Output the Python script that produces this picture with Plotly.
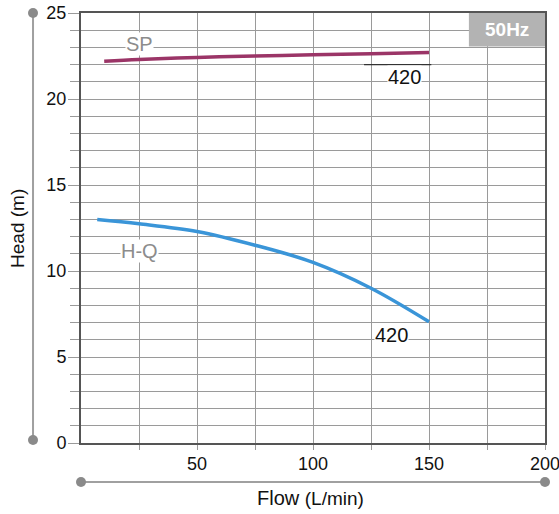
import plotly.graph_objects as go

# pump curves
sp_flow = [10, 25, 50, 75, 100, 125, 150]
sp_head = [22.2, 22.3, 22.42, 22.5, 22.57, 22.63, 22.7]
hq_flow = [7, 25, 50, 75, 100, 125, 150]
hq_head = [13.0, 12.75, 12.3, 11.5, 10.5, 9.0, 7.05]

x_tickvals = [25, 50, 75, 100, 125, 150, 175, 200]
x_ticktext = ['', '50', '', '100', '', '150', '', '200']
y_tickvals = [0, 5, 10, 15, 20, 25]

FONT = 'Liberation Sans, Arial, sans-serif'
GRID = '#9a9a9a'

fig = go.Figure()
fig.add_trace(go.Scatter(x=sp_flow, y=sp_head, mode='lines',
                         line=dict(color='#9b3567', width=3.5, shape='spline')))
fig.add_trace(go.Scatter(x=hq_flow, y=hq_head, mode='lines',
                         line=dict(color='#3a95d8', width=3.5, shape='spline')))

labels = [
    dict(x=25.4, y=23.2, text='SP', font=dict(size=20, color='#8c8c8c')),
    dict(x=25.4, y=11.15, text='H-Q', font=dict(size=20, color='#8c8c8c')),
    dict(x=139.5, y=21.3, text='420', font=dict(size=20, color='#111')),
    dict(x=134, y=6.3, text='420', font=dict(size=20, color='#111')),
]
annotations = []
for a in labels:
    annotations.append(dict(xref='x', yref='y', showarrow=False, bgcolor='white',
                            borderpad=0, **a))
annotations.append(dict(xref='x', yref='y', x=183.6, y=24.05, text='<b>50Hz</b>',
                        showarrow=False, font=dict(size=19, color='white')))
annotations.append(dict(xref='paper', yref='paper', x=-0.138, y=0.5, text='Head (m)',
                        xanchor='center', yanchor='middle',
                        textangle=-90, showarrow=False, font=dict(size=19, color='#111')))
annotations.append(dict(xref='paper', yref='paper', x=0.495, y=-0.128,
                        xanchor='center', yanchor='middle',
                        text="Flow <span style='font-size:19px'>(L/min)</span>",
                        showarrow=False, font=dict(size=20, color='#111')))

rail_y = -0.0907
rail_x = -0.1034
shapes = [
    # 50Hz badge
    dict(type='rect', xref='x', yref='y', x0=167.2, x1=200, y0=23.05, y1=25,
         fillcolor='#b3b3b3', line=dict(width=0), layer='above'),
    # darker leader under SP 420
    dict(type='line', xref='x', yref='y', x0=122, x1=151, y0=22, y1=22,
         line=dict(color='#333', width=1.2)),
    # decorative axis rails
    dict(type='line', xref='paper', yref='paper', x0=rail_x, x1=rail_x, y0=0.007, y1=1,
         line=dict(color='#a0a0a0', width=2)),
    dict(type='line', xref='paper', yref='paper', x0=0, x1=1, y0=rail_y, y1=rail_y,
         line=dict(color='#a0a0a0', width=2)),
]
for px_, py_ in [(rail_x, 1), (rail_x, 0.007), (0, rail_y), (1, rail_y)]:
    shapes.append(dict(type='circle', xref='paper', yref='paper',
                       xsizemode='pixel', ysizemode='pixel', xanchor=px_, yanchor=py_,
                       x0=-5, x1=5, y0=-5, y1=5, fillcolor='#8a8a8a',
                       line=dict(width=0)))

fig.update_layout(
    width=559, height=514,
    margin=dict(l=81, r=14, t=13, b=71, autoexpand=False),
    plot_bgcolor='white', paper_bgcolor='white',
    showlegend=False,
    font=dict(family=FONT, size=17, color='#111'),
    annotations=annotations, shapes=shapes,
)
fig.update_xaxes(range=[0, 200], tickvals=x_tickvals, ticktext=x_ticktext,
                 showgrid=True, gridcolor=GRID, gridwidth=1,
                 ticks='outside', ticklen=5, tickcolor=GRID,
                 showline=True, linecolor='#555', linewidth=2, mirror=True,
                 zeroline=False, tickfont=dict(size=18), automargin=False,
                 ticklabeloverflow='allow', ticklabelstandoff=-2)
fig.update_yaxes(range=[0, 25], tickvals=y_tickvals,
                 showgrid=True, gridcolor=GRID, gridwidth=1,
                 ticks='outside', ticklen=11, tickcolor=GRID,
                 minor=dict(dtick=1, showgrid=True, gridcolor=GRID, ticks='outside',
                            ticklen=9, tickcolor=GRID),
                 showline=True, linecolor='#555', linewidth=2, mirror=True,
                 zeroline=False, tickfont=dict(size=18), ticklabelstandoff=-2,
                 automargin=False, ticklabeloverflow='allow')

# drop the default 8px page margin so the figure fills the window
fig.write_html("out.html", config={'displayModeBar': False},
               post_script="document.body.style.margin='0';")
